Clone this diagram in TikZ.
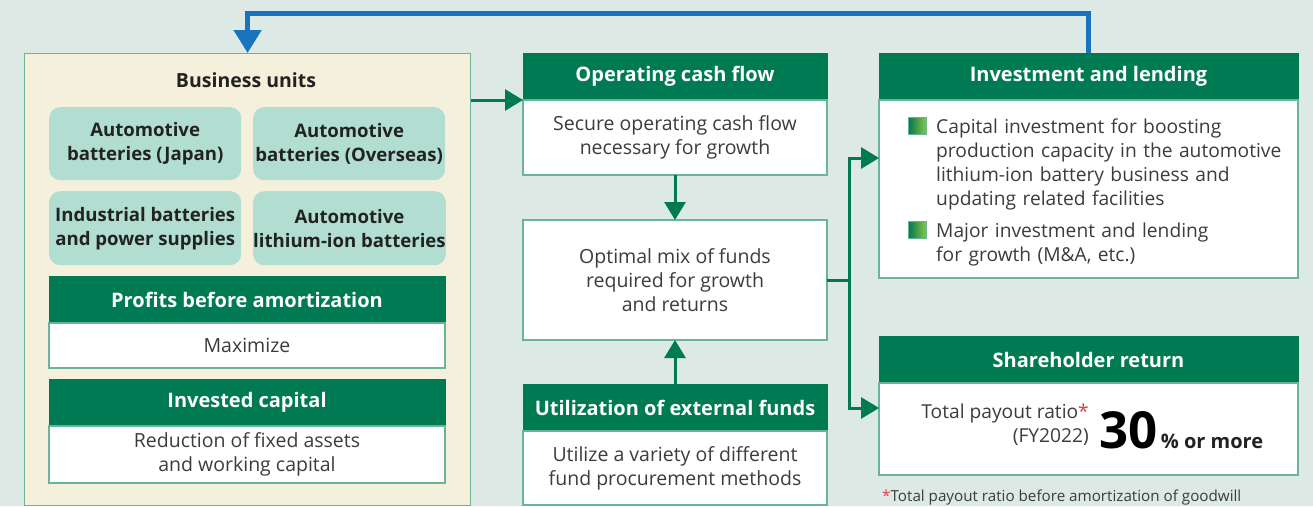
\documentclass[tikz,border=0pt]{standalone}
\usepackage{fontspec}
\setmainfont{Open Sans}
\usetikzlibrary{arrows.meta,calc}
\definecolor{bgc}{HTML}{DDE9E4}
\definecolor{cream}{HTML}{F5F0DC}
\definecolor{unitc}{HTML}{B2DED2}
\definecolor{hdrgreen}{HTML}{007A53}
\definecolor{edgec}{HTML}{6AB497}
\definecolor{loopblue}{HTML}{1A73BF}
\definecolor{txt}{HTML}{3C3C3C}
\definecolor{darktxt}{HTML}{222222}
\definecolor{lightgreen}{HTML}{8DC63F}
\definecolor{starred}{HTML}{E8383D}
\begin{document}
\begin{tikzpicture}[x=1pt,y=-1pt,
  hdr/.style={fill=hdrgreen, draw=hdrgreen, line width=1pt, text=white,
    font=\bfseries\fontsize{20}{24}\selectfont, anchor=north west,
    inner sep=0pt, outer sep=0pt},
  bodybox/.style={fill=white, draw=edgec, line width=1.2pt, text=txt,
    font=\fontsize{19.5}{24}\selectfont, anchor=north west, align=center,
    inner sep=0pt, outer sep=0pt},
  unitbox/.style={fill=unitc, rounded corners=11pt, text=darktxt,
    font=\bfseries\fontsize{18.6}{24}\selectfont, anchor=north west,
    align=center, inner sep=0pt, minimum width=192pt},
  itemtext/.style={anchor=north west, inner sep=0pt, text width=360pt,
    align=left, text=txt, font=\fontsize{19.2}{24}\selectfont},
  bulletsq/.style={minimum width=18pt, minimum height=17pt, inner sep=0pt,
    left color=hdrgreen, right color=lightgreen, draw=edgec, line width=0.8pt},
  gline/.style={draw=hdrgreen, line width=3pt},
  garrow/.style={gline, -{Triangle[length=18pt,width=21pt]}},
  barrow/.style={draw=loopblue, line width=5pt,
    -{Triangle[length=23pt,width=27pt]}},
]
% canvas
\fill[bgc] (0,0) rectangle (1313,506);
\useasboundingbox (0,0) rectangle (1313,506);

% business units panel
\node[fill=cream, draw=edgec, line width=1.2pt, anchor=north west,
  minimum width=446pt, minimum height=452pt, inner sep=0pt] (bu) at (24,53) {};
\node[font=\bfseries\fontsize{19.5}{24}\selectfont, text=darktxt] (butitle) at (246,80) {Business units};
\node[unitbox, minimum height=73pt] (u1) at (49,107) {Automotive\\batteries (Japan)};
\node[unitbox, minimum height=73pt] (u2) at (253,107) {Automotive\\batteries (Overseas)};
\node[unitbox, minimum height=74pt] (u3) at (49,191) {Industrial batteries\\and power supplies};
\node[unitbox, minimum height=74pt] (u4) at (253,191) {Automotive\\lithium-ion batteries};
\node[hdr, minimum width=396pt, minimum height=47pt] (pbah) at (49,276) {Profits before amortization};
\node[bodybox, minimum width=396pt, minimum height=45pt] (pbab) at (49,323) {Maximize};
\node[hdr, minimum width=396pt, minimum height=47pt] (ich) at (49,379) {Invested capital};
\node[bodybox, minimum width=396pt, minimum height=57pt] (icb) at (49,426) {Reduction of fixed assets\\and working capital};

% centre column
\node[hdr, minimum width=304pt, minimum height=47pt] (ocfh) at (523,53) {Operating cash flow};
\node[bodybox, minimum width=304pt, minimum height=75pt] (ocfb) at (523,100) {Secure operating cash flow\\necessary for growth};
\node[bodybox, minimum width=304pt, minimum height=120pt] (mix) at (523,220) {Optimal mix of funds\\required for growth\\and returns};
\node[hdr, minimum width=304pt, minimum height=47pt] (exth) at (523,384) {Utilization of external funds};
\node[bodybox, minimum width=304pt, minimum height=74pt] (extb) at (523,431) {Utilize a variety of different\\fund procurement methods};

% right column
\node[hdr, minimum width=419pt, minimum height=47pt] (invh) at (879,53) {Investment and lending};
\node[bodybox, minimum width=419pt, minimum height=178pt] (invb) at (879,100) {};
\node[bulletsq] (bl1) at (917.5,125.5) {};
\node[bulletsq] (bl2) at (917.5,229.5) {};
\node[itemtext] (it1) at (936,119)
  {Capital investment for boosting\\production capacity in the automotive\\lithium-ion battery business and\\updating related facilities};
\node[itemtext] (it2) at (936,223)
  {Major investment and lending\\for growth (M\&A, etc.)};

\node[hdr, minimum width=419pt, minimum height=47pt] (shh) at (879,336) {Shareholder return};
\node[bodybox, minimum width=419pt, minimum height=92pt] (shb) at (879,383) {};
\node[anchor=north east, inner sep=0pt, align=right, text=txt,
  font=\fontsize{19.2}{24}\selectfont] (ratio) at (1089,404)
  {Total payout ratio\textcolor{starred}{*}\\(FY2022)};
\node[anchor=base west, inner sep=0pt, text=black,
  font=\bfseries\fontsize{51}{51}\selectfont] (pct) at (1099,448) {30};
\node[anchor=base west, inner sep=0pt, text=darktxt,
  font=\bfseries\fontsize{20}{24}\selectfont] (more) at ([xshift=3pt]pct.base east) {\% or more};
\node[anchor=base west, inner sep=0pt, text=txt,
  font=\fontsize{15.2}{18}\selectfont] (note) at (882,501.5)
  {\textcolor{starred}{*}Total payout ratio before amortization of goodwill};

% connectors
\draw[barrow] (invh.north) -- ++(0,-40) -| (bu.north);
\draw[garrow] (bu.east |- ocfb.north west) -- (ocfb.north west);
\draw[garrow] (ocfb.south) -- (mix.north);
\draw[garrow] (exth.north) -- (mix.south);
\coordinate (br) at ([xshift=22pt]mix.east);
\draw[gline] (mix.east) -- (br);
\draw[garrow] (br) |- ([yshift=31pt]invb.west);
\draw[garrow] (br) |- ([yshift=21pt]shb.west);
\end{tikzpicture}
\end{document}
